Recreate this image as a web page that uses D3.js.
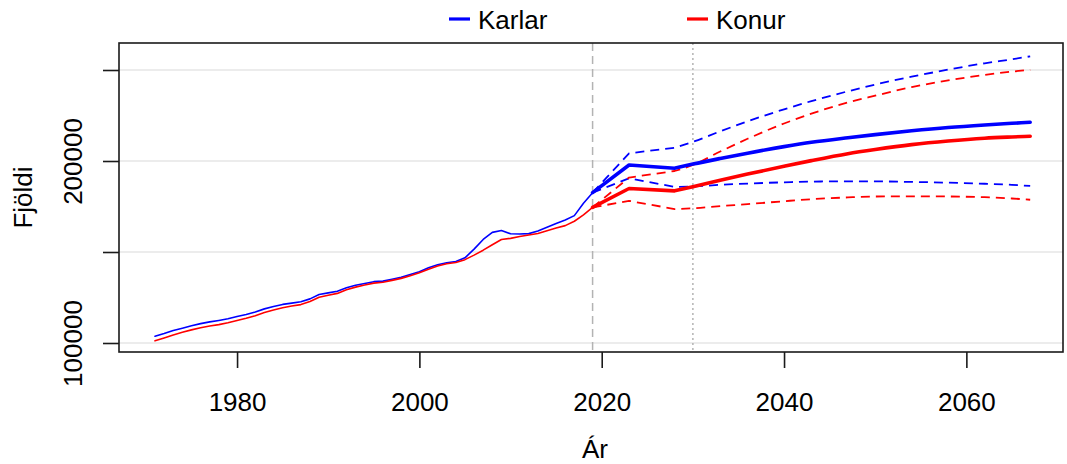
<!DOCTYPE html>
<html>
<head>
<meta charset="utf-8">
<script src="https://cdn.jsdelivr.net/npm/d3@7"></script>
<style>
  html, body { margin: 0; padding: 0; background: #fff; }
  svg { display: block; font-family: "Liberation Sans", Arial, Helvetica, sans-serif; }
</style>
</head>
<body>
<svg id="chart" width="1067" height="464"></svg>
<script>
// ---------- DATA ----------
const histYears = [1971,1972,1973,1974,1975,1976,1977,1978,1979,1980,1981,1982,1983,1984,1985,1986,1987,1988,1989,1990,1991,1992,1993,1994,1995,1996,1997,1998,1999,2000,2001,2002,2003,2004,2005,2006,2007,2008,2009,2010,2011,2012,2013,2014,2015,2016,2017,2018,2019];
const histMales = [103700,105200,106850,108150,109500,110650,111600,112400,113300,114550,115700,117000,118750,120050,121200,121900,122700,124250,126600,127550,128450,130300,131700,132700,133700,134000,135000,136100,137600,139200,141350,142950,144100,144750,146800,151600,156900,160800,161800,160000,159900,160100,161500,163600,165600,167600,170000,176800,182600];
const histFemales = [101200,102800,104450,105850,107200,108350,109300,110100,111100,112350,113600,115000,116750,118150,119400,120300,121100,122750,125100,126250,127250,129300,130700,131900,132900,133400,134400,135500,137000,138600,140550,142350,143500,144250,145800,148300,151000,154000,156900,157500,158500,159300,160200,161700,163150,164500,166900,170400,174500];

const projYears = [2019,2023,2028,2030,2033,2036,2040,2043,2047,2050,2054,2058,2062,2065,2067];
const malesMedian = [182600,197800,196000,198300,201400,204300,207900,210300,212800,214500,216600,218400,219800,220700,221300];
const malesUpper  = [182600,204200,207300,210500,216300,221800,228400,232900,238300,242000,246300,250200,253700,255900,257500];
const malesLower  = [182600,190500,185800,186000,186900,187600,188300,188700,188800,188800,188500,188100,187500,186900,186300];
const femalesMedian = [174500,184900,183600,185900,189400,192800,197100,200200,204000,206300,209000,211000,212500,213200,213600];
const femalesUpper  = [174500,190900,194500,197800,205200,212200,220600,226000,232200,235900,240600,244300,247300,249100,250100];
const femalesLower  = [174500,178100,173600,174000,175200,176300,177900,179000,180000,180500,180600,180500,180100,179400,178700];

const xTickValues = [1980,2000,2020,2040,2060];
const yTickValues = [100000,150000,200000,250000];
const yTickLabels = ["100000","","200000",""];
const vLineDashedYear = 2019;
const vLineDottedYear = 2030;
const smoothFromYear = 2028;
const seriesNames = ["Karlar","Konur"];
const xTitle = "Ár";
const yTitle = "Fjöldi";

// ---------- LAYOUT ----------
const plot = { left: 119, right: 1063, top: 43, bottom: 352 };
const BLUE = "#0000ff", RED = "#ff0000";
const FONT = 26;

const svg = d3.select("#chart");
const x = d3.scaleLinear().domain([1967.05, 2070.6]).range([plot.left, plot.right]);
const y = d3.scaleLinear().domain([95055, 264835]).range([plot.bottom, plot.top]);

svg.append("defs").append("clipPath").attr("id", "clip")
  .append("rect").attr("x", plot.left).attr("y", plot.top)
  .attr("width", plot.right - plot.left).attr("height", plot.bottom - plot.top);

// gridlines
svg.append("g").selectAll("line").data(yTickValues).join("line")
  .attr("x1", plot.left).attr("x2", plot.right)
  .attr("y1", d => y(d)).attr("y2", d => y(d))
  .attr("stroke", "#e6e6e6").attr("stroke-width", 1.5);

// vertical reference lines
svg.append("line")
  .attr("x1", x(vLineDashedYear)).attr("x2", x(vLineDashedYear))
  .attr("y1", plot.top).attr("y2", plot.bottom)
  .attr("stroke", "#b3b3b3").attr("stroke-width", 1.5).attr("stroke-dasharray", "8,5");
svg.append("line")
  .attr("x1", x(vLineDottedYear)).attr("x2", x(vLineDottedYear))
  .attr("y1", plot.top).attr("y2", plot.bottom)
  .attr("stroke", "#b3b3b3").attr("stroke-width", 1.5).attr("stroke-dasharray", "2,3");

const zip = (xs, ys) => xs.map((v, i) => [v, ys[i]]);
const g = svg.append("g").attr("clip-path", "url(#clip)");

function pathD(xs, ys, smoothSplit) {
  const pts = zip(xs, ys);
  const lin = d3.line().x(d => x(d[0])).y(d => y(d[1]));
  if (smoothSplit == null) return lin(pts);
  const head = pts.filter(d => d[0] <= smoothSplit);
  const tail = pts.filter(d => d[0] >= smoothSplit);
  const dHead = lin(head);
  const dTail = d3.line().x(d => x(d[0])).y(d => y(d[1])).curve(d3.curveMonotoneX)(tail);
  return dHead + dTail.replace(/^M[^A-Za-z]*/, "");
}

function drawLine(xs, ys, color, width, dash, smoothSplit) {
  g.append("path")
    .attr("d", pathD(xs, ys, smoothSplit)).attr("fill", "none")
    .attr("stroke", color).attr("stroke-width", width)
    .attr("stroke-linejoin", "round").attr("stroke-linecap", dash ? "butt" : "round")
    .attr("stroke-dasharray", dash || null);
}

// projections
drawLine(projYears, malesUpper, BLUE, 1.8, "9,6", smoothFromYear);
drawLine(projYears, malesLower, BLUE, 1.8, "9,6", smoothFromYear);
drawLine(projYears, femalesUpper, RED, 1.8, "9,6", smoothFromYear);
drawLine(projYears, femalesLower, RED, 1.8, "9,6", smoothFromYear);
drawLine(projYears, malesMedian, BLUE, 3.6, null, smoothFromYear);
drawLine(projYears, femalesMedian, RED, 3.6, null, smoothFromYear);
// history
drawLine(histYears, histMales, BLUE, 1.6, null, null);
drawLine(histYears, histFemales, RED, 1.6, null, null);

// frame
svg.append("rect")
  .attr("x", plot.left).attr("y", plot.top)
  .attr("width", plot.right - plot.left).attr("height", plot.bottom - plot.top)
  .attr("fill", "none").attr("stroke", "#1a1a1a").attr("stroke-width", 1.6);

// x axis
const xAxis = d3.axisBottom(x).tickValues(xTickValues).tickFormat(d3.format("d"))
  .tickSize(16).tickPadding(0);
const gx = svg.append("g").attr("transform", `translate(0,${plot.bottom})`).call(xAxis);
gx.select(".domain").remove();
gx.selectAll(".tick line").attr("stroke", "#1a1a1a").attr("stroke-width", 1.6);
gx.selectAll(".tick text").attr("font-size", FONT).attr("fill", "#000")
  .attr("font-family", "Liberation Sans, Arial, sans-serif")
  .attr("dy", null).attr("y", 59);

// y axis
const yAxis = d3.axisLeft(y).tickValues(yTickValues)
  .tickFormat((d, i) => yTickLabels[i]).tickSize(16).tickPadding(0);
const gy = svg.append("g").attr("transform", `translate(${plot.left},0)`).call(yAxis);
gy.select(".domain").remove();
gy.selectAll(".tick line").attr("stroke", "#1a1a1a").attr("stroke-width", 1.6);
gy.selectAll(".tick text").attr("font-size", FONT).attr("fill", "#000")
  .attr("font-family", "Liberation Sans, Arial, sans-serif")
  .attr("x", null).attr("dy", null)
  .attr("text-anchor", "middle")
  .attr("transform", "translate(-37,0) rotate(-90)");

// axis titles
svg.append("text").attr("x", (plot.left + plot.right) / 2 + 4).attr("y", 458)
  .attr("text-anchor", "middle").attr("font-size", FONT).text(xTitle);
svg.append("text")
  .attr("transform", `translate(32,${(plot.top + plot.bottom) / 2}) rotate(-90)`)
  .attr("text-anchor", "middle").attr("font-size", FONT).text(yTitle);

// legend
const legendItems = [
  { name: seriesNames[0], color: BLUE, x: 449 },
  { name: seriesNames[1], color: RED, x: 687 }
];
const lg = svg.append("g");
legendItems.forEach(it => {
  lg.append("line").attr("x1", it.x).attr("x2", it.x + 21)
    .attr("y1", 19).attr("y2", 19).attr("stroke", it.color).attr("stroke-width", 3.2);
  lg.append("text").attr("x", it.x + 29).attr("y", 29)
    .attr("font-size", FONT).attr("fill", "#000").text(it.name);
});
</script>
</body>
</html>
